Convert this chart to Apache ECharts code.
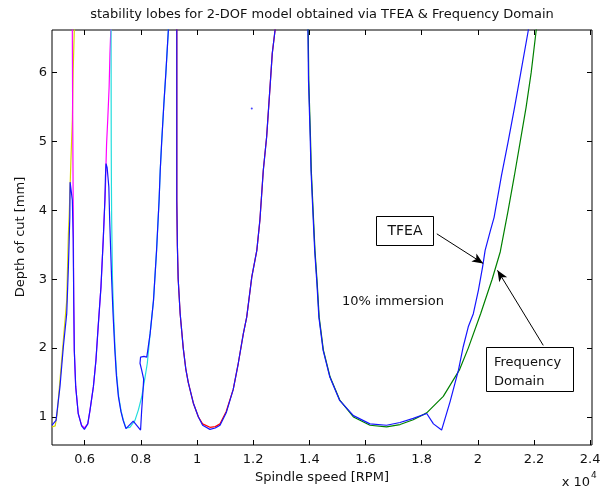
<!DOCTYPE html>
<html><head><meta charset="utf-8">
<script src="https://cdn.jsdelivr.net/npm/echarts@6/dist/echarts.min.js"></script>
<style>html,body{margin:0;padding:0;background:#fff}#c{width:610px;height:493px}</style>
</head><body><div id="c"></div>
<script>
// axis ticks
const xTicks = [6000, 8000, 10000, 12000, 14000, 16000, 18000, 20000, 22000, 24000];
const yTicks = [1, 2, 3, 4, 5, 6];

// Frequency Domain lobes (one colour per lobe)
const fdYellow = [[4836,0.855],[4950,0.87],[5020,1.05],[5140,1.63],[5260,2.21],[5360,2.69],[5420,3.66],[5450,3.95],[5510,4.73],[5560,5.31],[5590,6.03],[5630,6.62],[5640,7]];
const fdMagenta = [[5560,7],[5560,6.62],[5570,5.6],[5590,4.15],[5610,2.69],[5630,1.97],[5680,1.44],[5770,1.05],[5890,0.88],[5990,0.84],[6110,0.90],[6190,1.10],[6310,1.44],[6400,1.82],[6480,2.31],[6580,2.89],[6660,3.57],[6720,4.15],[6740,4.34],[6760,4.68],[6780,4.97],[6820,5.31],[6870,5.79],[6900,6.28],[6930,6.62],[6940,7]];
const fdCyan = [[6940,7],[6940,6.62],[6945,5.0],[6950,4.5],[6960,3.9],[6990,3.0],[7030,2.5],[7080,2.0],[7140,1.6],[7210,1.3],[7300,1.08],[7380,0.95],[7470,0.84],[7610,0.85],[7790,0.95],[7910,1.10],[8030,1.29],[8150,1.58],[8230,1.78],[8330,2.21],[8450,2.69],[8560,3.42],[8650,4.15],[8690,4.58],[8740,4.98],[8820,5.55],[8890,5.99],[8980,6.62],[8990,7]];
const fdRed = [[9280,7],[9280,4.15],[9300,3.5],[9330,3.0],[9400,2.5],[9510,2.0],[9600,1.7],[9690,1.5],[9870,1.2],[10050,1.0],[10200,0.9],[10460,0.85],[10650,0.86],[10820,0.90],[11040,1.08],[11290,1.40],[11470,1.78],[11650,2.21],[11770,2.45],[11950,3.03],[12130,3.42],[12240,3.86],[12360,4.58],[12480,5.07],[12600,5.79],[12680,6.28],[12780,6.62],[12800,7]];
const fdGreen = [[13960,7],[13960,6.62],[13980,5.89],[14040,5.07],[14070,4.58],[14140,3.95],[14200,3.42],[14280,2.94],[14350,2.45],[14500,1.97],[14740,1.58],[15090,1.24],[15570,1.0],[16160,0.88],[16750,0.855],[17230,0.89],[17700,0.96],[18180,1.06],[18770,1.30],[19340,1.68],[19660,2.0],[20100,2.5],[20510,3.0],[20800,3.4],[21080,4.0],[21300,4.5],[21510,5.0],[21720,5.5],[21900,6.0],[22080,6.62],[22110,7]];

// TFEA result (blue)
const tfea = [[4836,0.88],[4900,0.90],[4980,0.95],[5120,1.44],[5240,2.02],[5360,2.5],[5420,3.18],[5470,3.9],[5480,4.41],[5500,4.41],[5560,4.15],[5590,3.6],[5610,2.69],[5630,1.97],[5680,1.44],[5770,1.05],[5890,0.87],[5990,0.82],[6110,0.90],[6190,1.10],[6310,1.44],[6400,1.82],[6480,2.31],[6580,2.89],[6660,3.57],[6720,4.15],[6740,4.5],[6760,4.68],[6800,4.62],[6860,4.34],[6890,3.86],[6960,3.0],[7010,2.5],[7070,2.0],[7130,1.6],[7200,1.3],[7290,1.08],[7370,0.95],[7470,0.83],[7730,0.94],[7990,0.81],[8030,1.1],[8080,1.4],[8100,1.55],[8030,1.68],[7970,1.78],[7990,1.87],[8110,1.88],[8210,1.87],[8240,1.95],[8330,2.21],[8450,2.69],[8560,3.42],[8650,4.15],[8690,4.58],[8740,4.98],[8820,5.55],[8890,5.99],[8980,6.62],[8990,7],[9280,7],[9280,4.15],[9300,3.5],[9330,3.0],[9400,2.5],[9510,2.0],[9600,1.7],[9690,1.5],[9870,1.2],[10050,1.0],[10200,0.88],[10460,0.82],[10650,0.84],[10820,0.88],[11040,1.06],[11290,1.40],[11470,1.78],[11650,2.21],[11770,2.45],[11950,3.03],[12130,3.42],[12240,3.86],[12360,4.58],[12480,5.07],[12600,5.79],[12680,6.28],[12780,6.62],[12800,7],[13940,7],[13950,6.62],[13970,5.89],[14030,5.07],[14060,4.58],[14130,3.95],[14190,3.42],[14270,2.94],[14340,2.45],[14490,1.97],[14730,1.58],[15080,1.24],[15570,1.02],[16160,0.90],[16750,0.88],[17230,0.92],[17700,0.98],[18180,1.05],[18420,0.90],[18710,0.81],[19010,1.22],[19310,1.68],[19480,2.02],[19660,2.31],[19840,2.50],[20020,2.84],[20170,3.18],[20260,3.42],[20450,3.71],[20580,3.90],[20840,4.5],[21080,5.0],[21310,5.5],[21530,6.0],[21800,6.62],[21850,7]];
const tfeaDot = [[11950,5.48]];

// annotation arrows [from, to] in data units
const arrowTFEA = [[18540,3.66],[20190,3.23]];
const arrowFD = [[22330,2.04],[20700,3.13]];

const FONT = 'DejaVu Sans';
const chart = echarts.init(document.getElementById('c'), null, {renderer:'canvas'});
function lobe(data, color, z){
  return {type:'line', data, showSymbol:false, symbol:'none', clip:true, z,
    lineStyle:{color, width:1.2}, silent:true, animation:false};
}
const axisCommon = {type:'value', splitLine:{show:false}, axisLine:{show:false}};
chart.setOption({
  animation:false,
  backgroundColor:'#fff',
  grid:{left:52, top:30, width:540, height:415, show:true, borderColor:'#000', borderWidth:1, containLabel:false},
  xAxis:[
    Object.assign({}, axisCommon, {min:4836, max:24066, position:'bottom',
      axisTick:{inside:true, length:5, lineStyle:{color:'#000'}, customValues:xTicks},
      axisLabel:{customValues:xTicks, margin:8, color:'#111', fontFamily:FONT, fontSize:13, formatter:v=>String(v/10000)}}),
    Object.assign({}, axisCommon, {min:4836, max:24066, position:'top',
      axisTick:{inside:true, length:5, lineStyle:{color:'#000'}, customValues:xTicks},
      axisLabel:{show:false}})
  ],
  yAxis:[
    Object.assign({}, axisCommon, {min:0.593, max:6.62, position:'left',
      axisTick:{inside:true, length:5, lineStyle:{color:'#000'}, customValues:yTicks},
      axisLabel:{customValues:yTicks, margin:5, color:'#111', fontFamily:FONT, fontSize:13}}),
    Object.assign({}, axisCommon, {min:0.593, max:6.62, position:'right',
      axisTick:{inside:true, length:5, lineStyle:{color:'#000'}, customValues:yTicks},
      axisLabel:{show:false}})
  ],
  series:[
    lobe(fdYellow, '#d6d600', 2),
    lobe(fdMagenta, '#ff00ff', 2),
    lobe(fdCyan, '#22dddd', 2),
    lobe(fdRed, '#ff0000', 2),
    lobe(fdGreen, '#008000', 2),
    lobe(tfea, '#1515ff', 3),
    {type:'scatter', data:tfeaDot, symbolSize:2, itemStyle:{color:'#1515ff'}, silent:true, z:3},
    {type:'line', data:[], silent:true, z:4,
      markLine:{silent:true, animation:false, symbol:['none','arrow'], symbolSize:[7,11],
        lineStyle:{color:'#000', width:1, type:'solid'}, label:{show:false},
        data:[
          [{coord:arrowTFEA[0]},{coord:arrowTFEA[1]}],
          [{coord:arrowFD[0]},{coord:arrowFD[1]}]
        ]}}
  ],
  graphic:[
    {type:'text', x:322, y:15, style:{text:'stability lobes for 2-DOF model obtained via TFEA & Frequency Domain', font:'13px "DejaVu Sans"', fill:'#111', align:'center', verticalAlign:'middle'}},
    {type:'text', x:322, y:478, style:{text:'Spindle speed [RPM]', font:'13px "DejaVu Sans"', fill:'#111', align:'center', verticalAlign:'middle'}},
    {type:'text', x:21, y:237, rotation:Math.PI/2, style:{text:'Depth of cut [mm]', font:'13px "DejaVu Sans"', fill:'#111', align:'center', verticalAlign:'middle'}},
    {type:'text', x:590, y:483, style:{text:'x 10', font:'13px "DejaVu Sans"', fill:'#111', align:'right', verticalAlign:'middle'}},
    {type:'text', x:591, y:476, style:{text:'4', font:'9px "DejaVu Sans"', fill:'#111', align:'left', verticalAlign:'middle'}},
    {type:'text', x:342, y:302, style:{text:'10% immersion', font:'13px "DejaVu Sans"', fill:'#111', align:'left', verticalAlign:'middle'}},
    {type:'rect', shape:{x:376.5, y:216.5, width:57, height:29}, style:{fill:'#fff', stroke:'#000', lineWidth:1}, z:10},
    {type:'text', x:405, y:231, z:11, style:{text:'TFEA', font:'14px "DejaVu Sans"', fill:'#111', align:'center', verticalAlign:'middle'}},
    {type:'rect', shape:{x:486.5, y:347.5, width:87, height:44}, style:{fill:'#fff', stroke:'#000', lineWidth:1}, z:10},
    {type:'text', x:494, y:363, z:11, style:{text:'Frequency', font:'13px "DejaVu Sans"', fill:'#111', align:'left', verticalAlign:'middle'}},
    {type:'text', x:494, y:382, z:11, style:{text:'Domain', font:'13px "DejaVu Sans"', fill:'#111', align:'left', verticalAlign:'middle'}}
  ]
});
</script></body></html>
